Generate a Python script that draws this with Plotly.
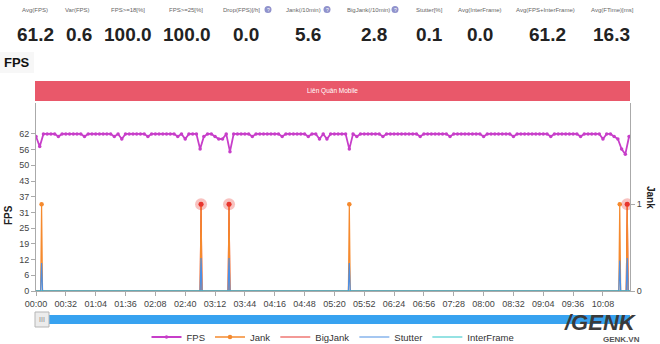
import plotly.graph_objects as go

# ---------------- summary statistics (header row) ----------------
stat_labels = ["Avg(FPS)", "Var(FPS)", "FPS>=18[%]", "FPS>=25[%]", "Drop(FPS)[/h]",
               "Jank(/10min)", "BigJank(/10min)", "Stutter[%]", "Avg(InterFrame)",
               "Avg(FPS+InterFrame)", "Avg(FTime)[ms]"]
stat_values = ["61.2", "0.6", "100.0", "100.0", "0.0", "5.6", "2.8", "0.1", "0.0", "61.2", "16.3"]
stat_has_help = [False, False, False, False, True, True, True, False, False, False, False]

app_name = "Liên Quân Mobile"

# ---------------- time series ----------------
# FPS sampled every 4 seconds, 0 s .. 636 s
fps_time = list(range(0, 637, 4))
fps = [
    61, 57, 62, 62, 62, 62, 61, 62, 62, 62, 62, 62, 62, 61, 62, 62,
    62, 62, 62, 62, 62, 61, 62, 60, 62, 62, 62, 62, 62, 62, 61, 62,
    62, 62, 62, 62, 62, 62, 61, 62, 60, 62, 62, 62, 56, 61, 62, 62,
    61, 60, 60, 62, 55, 62, 62, 62, 62, 62, 61, 62, 62, 62, 62, 62,
    62, 62, 61, 62, 62, 62, 62, 62, 62, 61, 62, 62, 60, 62, 60, 62,
    62, 62, 62, 62, 56, 62, 61, 62, 62, 62, 62, 62, 62, 61, 62, 62,
    62, 62, 62, 62, 62, 62, 62, 61, 62, 62, 62, 62, 62, 62, 62, 61,
    62, 62, 62, 62, 62, 62, 62, 62, 61, 62, 62, 62, 62, 62, 62, 62,
    61, 62, 62, 62, 62, 62, 62, 62, 62, 62, 61, 62, 62, 62, 62, 62,
    62, 62, 61, 62, 62, 62, 62, 62, 60, 62, 62, 61, 60, 56, 54, 61,
]

# per-second event data
seconds = list(range(0, 638))
jank_times = [6, 177, 207, 336, 626, 634]
bigjank_times = [177, 207, 634]
stutter_times = [6, 177, 207, 336, 626, 634]
stutter_values = [11, 13, 13, 11, 12, 13]
interframe_value = 0

# axis ticks
x_tick_seconds = [0, 32, 64, 96, 128, 160, 192, 224, 256, 288, 320, 352,
                  384, 416, 448, 480, 512, 544, 576, 608]
x_tick_labels = ["00:00", "00:32", "01:04", "01:36", "02:08", "02:40", "03:12", "03:44",
                 "04:16", "04:48", "05:20", "05:52", "06:24", "06:56", "07:28", "08:00",
                 "08:32", "09:04", "09:36", "10:08"]
fps_tick_values = [0, 6.2, 12.4, 18.6, 24.8, 31.0, 37.2, 43.4, 49.6, 55.8, 62.0]
fps_tick_labels = ["0", "6", "12", "19", "25", "31", "37", "43", "50", "56", "62"]
jank_tick_values = [0, 1]
jank_tick_labels = ["0", "1"]

# build the per-second series from the event lists
jank = [1 if t in jank_times else 0 for t in seconds]
bigjank = [1 if t in bigjank_times else 0 for t in seconds]
stutter_lookup = dict(zip(stutter_times, stutter_values))
stutter = [stutter_lookup.get(t, 0) for t in seconds]
interframe = [interframe_value for _ in seconds]


def gapped(times):
    xs, ys = [], []
    for t in times:
        xs += [t, None]
        ys += [1, None]
    return xs, ys


# ---------------- page geometry (pixels) ----------------
W, H = 660, 344
L, R, T, B = 36, 630, 103, 291


def px(x):
    return (x - L) / (R - L)


def py(y):
    return (B - y) / (B - T)


C_FPS = "#c73ec9"
C_JANK = "#f58a2e"
C_BIG = "#e8352f"
C_STUT = "#4d8fe3"
C_INTER = "#2cc6c8"
FONT = "Liberation Sans, Arial, sans-serif"

fig = go.Figure()

# Jank / BigJank live on the right-hand axis ("y"); FPS, Stutter and
# InterFrame on the left-hand overlay axis ("y2"), which is drawn on top.
fig.add_trace(go.Scatter(
    x=seconds, y=bigjank, yaxis="y", name="BigJank", mode="lines",
    line=dict(color=C_BIG, width=1.2), legendrank=3))
fig.add_trace(go.Scatter(
    x=seconds, y=jank, yaxis="y", mode="lines", line=dict(color=C_JANK, width=1.2),
    showlegend=False, legendgroup="jank", hoverinfo="skip"))
jx, jy = gapped(jank_times)
fig.add_trace(go.Scatter(
    x=jx, y=jy, yaxis="y", name="Jank", mode="lines+markers",
    line=dict(color=C_JANK, width=1.6), marker=dict(color=C_JANK, size=4.5),
    legendgroup="jank", legendrank=2))
bx, by = gapped(bigjank_times)
fig.add_trace(go.Scatter(
    x=bx, y=by, yaxis="y", mode="markers", showlegend=False, hoverinfo="skip",
    marker=dict(color=C_BIG, size=12, opacity=0.3)))
fig.add_trace(go.Scatter(
    x=bx, y=by, yaxis="y", mode="markers", showlegend=False,
    marker=dict(color=C_BIG, size=5)))

fig.add_trace(go.Scatter(
    x=fps_time, y=fps, yaxis="y2", name="FPS", mode="lines+markers",
    line=dict(color=C_FPS, width=1.8), marker=dict(color=C_FPS, size=3.5),
    legendrank=1))
fig.add_trace(go.Scatter(
    x=seconds, y=stutter, yaxis="y2", name="Stutter", mode="lines",
    line=dict(color=C_STUT, width=1.2), legendrank=4))
fig.add_trace(go.Scatter(
    x=seconds, y=interframe, yaxis="y2", name="InterFrame", mode="lines",
    line=dict(color=C_INTER, width=1.2), legendrank=5))

ann = []
shapes = []


def text_at(x, y, text, size, color, **kw):
    ann.append(dict(x=px(x), y=py(y), xref="paper", yref="paper", text=text,
                    xanchor="center", yanchor="middle", showarrow=False,
                    font=dict(size=size, color=color, family=FONT), **kw))


# header statistics
label_x = [35, 77, 128, 186, 242, 303, 368, 429, 480, 545, 612]
value_x = [35, 79, 128, 187, 246, 308, 374, 429, 480, 547, 611]
help_x = [None, None, None, None, 268, 327, 395, None, None, None, None]
for i, lab in enumerate(stat_labels):
    text_at(label_x[i], 9.5, lab, 6, "#666")
    text_at(value_x[i], 34, "<b>%s</b>" % stat_values[i], 19, "#222")
    if stat_has_help[i]:
        cx = help_x[i]
        shapes.append(dict(type="circle", xref="paper", yref="paper",
                           x0=px(cx - 3.5), x1=px(cx + 3.5), y0=py(13), y1=py(6),
                           fillcolor="#9092cc", line=dict(width=0)))
        text_at(cx, 9.5, "?", 5, "white")

# section title
shapes.append(dict(type="rect", xref="paper", yref="paper", x0=px(0), x1=px(34),
                   y0=py(73), y1=py(52), fillcolor="#f7f7f7", line=dict(width=0), layer="below"))
text_at(17, 63, "<b>FPS</b>", 13, "#111")

# application band
shapes.append(dict(type="rect", xref="paper", yref="paper", x0=px(35), x1=px(630),
                   y0=py(101), y1=py(81), fillcolor="#e9586a", line=dict(width=0)))
text_at(332, 91, app_name, 6.5, "white")

# axis titles
text_at(8, 215, "<b>FPS</b>", 10, "#222", textangle=-90)
text_at(651, 198, "<b>Jank</b>", 10, "#222", textangle=90)

# zoom slider
shapes.append(dict(type="rect", xref="paper", yref="paper", x0=px(48), x1=px(630),
                   y0=py(324), y1=py(315), fillcolor="#37a2f0", line=dict(width=0)))
shapes.append(dict(type="rect", xref="paper", yref="paper", x0=px(35), x1=px(49),
                   y0=py(327), y1=py(312), fillcolor="#ececec", line=dict(color="#b5b5b5", width=1)))
text_at(42, 319.5, "III", 7, "#888")

# watermark
text_at(600, 322, "<b><i>/GENK</i></b>", 22, "#3a3a3a", borderpad=0)
text_at(621, 339, "<b>GENK.VN</b>", 8, "#555", borderpad=0)

axis_common = dict(showgrid=False, zeroline=False, showline=True, linecolor="#aaa",
                   linewidth=1, ticks="outside", ticklen=4, tickcolor="#aaa",
                   tickfont=dict(size=9, color="#444", family=FONT))

fig.update_layout(
    width=W, height=H,
    margin=dict(l=L, r=W - R, t=T, b=H - B, pad=0, autoexpand=False),
    paper_bgcolor="white", plot_bgcolor="white",
    font=dict(family=FONT),
    xaxis=dict(range=[0, 637], tickvals=x_tick_seconds, ticktext=x_tick_labels, **axis_common),
    yaxis=dict(range=[0, 2.168], side="right", tickvals=jank_tick_values,
               ticktext=jank_tick_labels, **axis_common),
    yaxis2=dict(range=[0, 74.2], overlaying="y", side="left", tickvals=fps_tick_values,
                ticktext=fps_tick_labels, **axis_common),
    legend=dict(orientation="h", x=0.5, xanchor="center", y=py(337), yanchor="middle",
                font=dict(size=9.5, color="#333", family=FONT), itemwidth=30,
                bgcolor="rgba(0,0,0,0)"),
    annotations=ann, shapes=shapes, showlegend=True,
)

fig.write_html("out.html")
